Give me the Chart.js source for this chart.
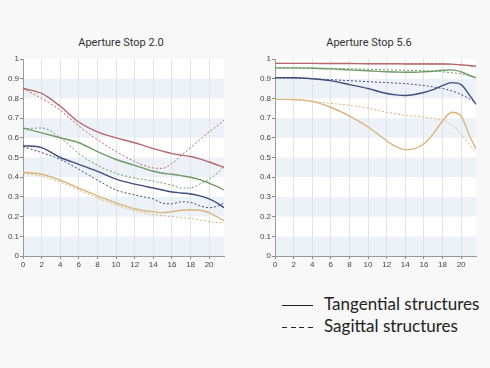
<!DOCTYPE html>
<html lang="en">
<head>
  <meta charset="UTF-8" />
  <title>MTF charts</title>
  <script src="https://cdn.jsdelivr.net/npm/chart.js"></script>
  <style>
    body {
      margin: 0;
      width: 490px;
      height: 368px;
      background: #f8f8f8;
      position: relative;
      overflow: hidden;
      font-family: Roboto, "Liberation Sans", sans-serif;
    }
    .title {
      position: absolute;
      top: 36px;
      font-family: "Liberation Sans Narrow", Roboto, sans-serif;
      font-size: 11px;
      color: #333;
      text-align: center;
      width: 200px;
    }
    .box { position: absolute; top: 52px; height: 218px; }
    /* legend lower right */
    .legend {
      position: absolute;
      left: 282px;
      font-family: Lato, "Open Sans", sans-serif;
      font-size: 17px;
      color: #222;
    }
    .legend span.ln {
      display: inline-block;
      width: 31px;
      height: 1.5px;
      vertical-align: middle;
      margin-right: 11px;
      background: #222;
    }
    .legend span.ln.dash {
      background: repeating-linear-gradient(90deg, #222 0 5px, transparent 5px 8.5px);
    }
  </style>
</head>
<body>

  <div class="title" style="left:21px;">Aperture Stop 2.0</div>
  <div class="title" style="left:269px;">Aperture Stop 5.6</div>

  <div class="box" style="left:0; width:240px;"><canvas id="chartA"></canvas></div>
  <div class="box" style="left:252px; width:240px;"><canvas id="chartB"></canvas></div>

  <div class="legend" style="top:293px;"><span class="ln"></span>Tangential structures</div>
  <div class="legend" style="top:315px;"><span class="ln dash"></span>Sagittal structures</div>

  <script>
    // image height positions (mm)
    const fieldPos = [0, 2, 4, 6, 8, 10, 12, 13, 14, 15, 16, 17, 18, 19, 20, 21, 21.6];

    // Aperture 2.0
    const a_redT    = [0.85, 0.825, 0.76, 0.68, 0.63, 0.60, 0.575, 0.56, 0.545, 0.532, 0.52, 0.512, 0.505, 0.493, 0.477, 0.46, 0.45];
    const a_redS    = [0.85, 0.80, 0.74, 0.66, 0.59, 0.53, 0.48, 0.46, 0.447, 0.445, 0.47, 0.51, 0.55, 0.59, 0.63, 0.665, 0.69];
    const a_greenT  = [0.65, 0.625, 0.60, 0.575, 0.53, 0.49, 0.46, 0.445, 0.43, 0.42, 0.415, 0.408, 0.40, 0.388, 0.37, 0.35, 0.335];
    const a_greenS  = [0.645, 0.65, 0.60, 0.52, 0.46, 0.42, 0.395, 0.388, 0.38, 0.37, 0.36, 0.345, 0.345, 0.365, 0.39, 0.425, 0.455];
    const a_blueT   = [0.56, 0.55, 0.50, 0.465, 0.43, 0.39, 0.365, 0.355, 0.345, 0.335, 0.325, 0.32, 0.315, 0.305, 0.29, 0.265, 0.245];
    const a_blueS   = [0.555, 0.525, 0.49, 0.44, 0.385, 0.335, 0.31, 0.30, 0.29, 0.268, 0.265, 0.275, 0.272, 0.255, 0.245, 0.255, 0.27];
    const a_yellowT = [0.425, 0.415, 0.385, 0.345, 0.305, 0.27, 0.24, 0.23, 0.225, 0.22, 0.225, 0.232, 0.235, 0.232, 0.22, 0.195, 0.18];
    const a_yellowS = [0.42, 0.405, 0.375, 0.335, 0.295, 0.26, 0.23, 0.22, 0.21, 0.205, 0.20, 0.195, 0.19, 0.183, 0.175, 0.17, 0.17];

    // Aperture 5.6
    const b_redT    = [0.978, 0.978, 0.978, 0.977, 0.977, 0.976, 0.976, 0.976, 0.975, 0.975, 0.975, 0.975, 0.975, 0.974, 0.97, 0.966, 0.963];
    const b_redS    = [0.978, 0.978, 0.978, 0.977, 0.977, 0.976, 0.976, 0.976, 0.976, 0.976, 0.976, 0.976, 0.975, 0.973, 0.97, 0.967, 0.965];
    const b_greenT  = [0.955, 0.955, 0.953, 0.95, 0.945, 0.94, 0.935, 0.934, 0.933, 0.933, 0.935, 0.938, 0.943, 0.945, 0.935, 0.915, 0.905];
    const b_greenS  = [0.955, 0.955, 0.954, 0.952, 0.95, 0.948, 0.945, 0.944, 0.943, 0.942, 0.94, 0.938, 0.935, 0.93, 0.925, 0.913, 0.905];
    const b_blueT   = [0.905, 0.905, 0.90, 0.89, 0.87, 0.85, 0.825, 0.818, 0.815, 0.82, 0.83, 0.845, 0.865, 0.88, 0.87, 0.81, 0.77];
    const b_blueS   = [0.905, 0.903, 0.90, 0.895, 0.89, 0.885, 0.88, 0.878, 0.875, 0.87, 0.865, 0.858, 0.85, 0.838, 0.82, 0.795, 0.78];
    const b_yellowT = [0.795, 0.795, 0.785, 0.755, 0.71, 0.655, 0.585, 0.555, 0.54, 0.545, 0.57, 0.62, 0.685, 0.73, 0.71, 0.60, 0.545];
    const b_yellowS = [0.795, 0.792, 0.785, 0.775, 0.765, 0.75, 0.73, 0.722, 0.715, 0.71, 0.705, 0.698, 0.69, 0.665, 0.62, 0.56, 0.525];

    const xTicks = [0, 2, 4, 6, 8, 10, 12, 14, 16, 18, 20];
    const yTicks = [0, 0.1, 0.2, 0.3, 0.4, 0.5, 0.6, 0.7, 0.8, 0.9, 1];

    const RED = '#b5666a', GREEN = '#6f9a66', BLUE = '#3f4d7e', YELLOW = '#d9b57a';

    function pts(vals) {
      return vals.map((v, i) => ({ x: fieldPos[i], y: v }));
    }

    function line(vals, color, dashed) {
      return {
        data: pts(vals),
        borderColor: color,
        borderWidth: dashed ? 1 : 1.4,
        borderDash: dashed ? [2, 2] : [],
        pointRadius: 0,
        fill: false,
        cubicInterpolationMode: 'monotone'
      };
    }

    // white plot area + light blue bands every other 0.1
    const bandsPlugin = {
      id: 'bands',
      beforeDraw(chart) {
        const { ctx, chartArea: a, scales } = chart;
        ctx.save();
        ctx.fillStyle = '#ffffff';
        ctx.fillRect(a.left, a.top, a.right - a.left, a.bottom - a.top);
        ctx.fillStyle = '#edf2f8';
        for (let v = 0; v < 1; v += 0.2) {
          const y1 = scales.y.getPixelForValue(v);
          const y2 = scales.y.getPixelForValue(v + 0.1);
          ctx.fillRect(a.left, y2, a.right - a.left, y1 - y2);
        }
        ctx.restore();
      }
    };

    function makeChart(id, datasets) {
      return new Chart(document.getElementById(id), {
        type: 'line',
        data: { datasets },
        plugins: [bandsPlugin],
        options: {
          responsive: true,
          maintainAspectRatio: false,
          animation: false,
          layout: { padding: { top: 7, right: 16, left: 0, bottom: 0 } },
          plugins: { legend: { display: false }, tooltip: { enabled: false } },
          scales: {
            x: {
              type: 'linear',
              min: 0,
              max: 21.6,
              afterBuildTicks: s => { s.ticks = xTicks.map(v => ({ value: v })); },
              afterFit: s => { s.height = 14; },
              ticks: { color: '#444', font: { size: 8 }, padding: 1, maxRotation: 0 },
              grid: { color: '#e3e3e3', tickLength: 3, tickColor: '#888' },
              border: { color: '#999' }
            },
            y: {
              min: 0,
              max: 1,
              afterBuildTicks: s => { s.ticks = yTicks.map(v => ({ value: v })); },
              afterFit: s => { s.width = 23; },
              ticks: {
                color: '#444', font: { size: 8 }, padding: 1,
                callback: v => String(Math.round(v * 10) / 10)
              },
              grid: { display: true, drawOnChartArea: false, tickLength: 3, tickColor: '#888' },
              border: { color: '#999' }
            }
          }
        }
      });
    }

    makeChart('chartA', [
      line(a_redT, RED, false), line(a_redS, RED, true),
      line(a_greenT, GREEN, false), line(a_greenS, GREEN, true),
      line(a_blueT, BLUE, false), line(a_blueS, BLUE, true),
      line(a_yellowT, YELLOW, false), line(a_yellowS, YELLOW, true)
    ]);

    makeChart('chartB', [
      line(b_redT, RED, false), line(b_redS, RED, true),
      line(b_greenT, GREEN, false), line(b_greenS, GREEN, true),
      line(b_blueT, BLUE, false), line(b_blueS, BLUE, true),
      line(b_yellowT, YELLOW, false), line(b_yellowS, YELLOW, true)
    ]);
  </script>
</body>
</html>
